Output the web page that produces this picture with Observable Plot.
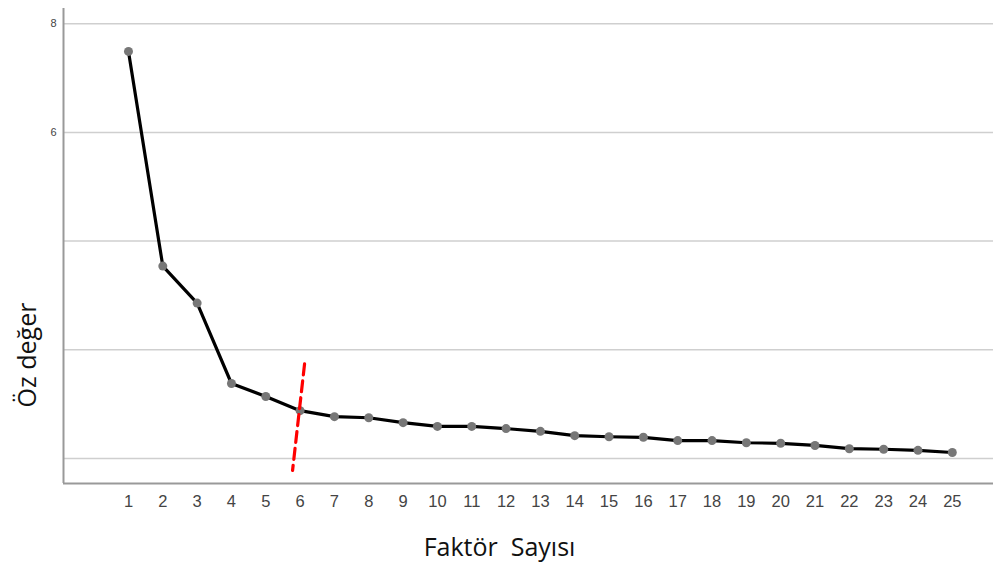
<!DOCTYPE html>
<html>
<head>
<meta charset="utf-8">
<script src="https://cdn.jsdelivr.net/npm/d3@7"></script>
<script src="https://cdn.jsdelivr.net/npm/@observablehq/plot@0.6"></script>
<style>
  html, body { margin: 0; padding: 0; background: #fff; }
  svg text { white-space: pre; }
</style>
</head>
<body>
<div id="chart"></div>
<script>
const factors = [1,2,3,4,5,6,7,8,9,10,11,12,13,14,15,16,17,18,19,20,21,22,23,24,25];
const eigenvalues = [7.49,3.54,2.86,1.38,1.14,0.88,0.77,0.75,0.66,0.59,0.59,0.55,0.50,0.42,0.40,0.39,0.33,0.33,0.29,0.28,0.24,0.18,0.17,0.15,0.11];
const yTicks = [0,2,4,6,8];
const yTickLabels = ["", "", "", "6", "8"];
const cutX = [6.13, 5.78];
const cutY = [1.74, -0.22];
const xTitle = "Faktör  Sayısı";
const yTitle = "Öz değer";

const data = factors.map((f, i) => ({f, v: eigenvalues[i]}));
const cut = cutX.map((x, i) => ({x, y: cutY[i]}));

const chart = Plot.plot({
  width: 993,
  height: 565,
  marginLeft: 63,
  marginRight: 0,
  marginTop: 8,
  marginBottom: 82,
  style: {fontFamily: "'Liberation Sans', Arial, sans-serif", background: "#fff"},
  x: {domain: [-0.893, 26.2], ticks: factors, tickSize: 0, tickPadding: 12},
  y: {domain: [-0.46, 8.28], ticks: yTicks, tickSize: 0, tickPadding: 7,
      tickFormat: d => yTickLabels[yTicks.indexOf(d)] ?? ""},
  marks: [
    Plot.gridY(yTicks, {stroke: "#cfcfcf", strokeOpacity: 1, strokeWidth: 1.5}),
    Plot.axisX({ticks: factors, tickSize: 0, tickPadding: 12, fontSize: 16.5, fill: "#444", label: null}),
    Plot.axisY({ticks: yTicks, tickSize: 0, tickPadding: 7, fontSize: 11, fill: "#444", label: null,
      tickFormat: d => yTickLabels[yTicks.indexOf(d)] ?? ""}),
    Plot.ruleX([-0.893], {stroke: "#999", strokeWidth: 2}),
    Plot.ruleY([-0.46], {stroke: "#999", strokeWidth: 2}),
    Plot.line(data, {x: "f", y: "v", stroke: "#000", strokeWidth: 3.2}),
    Plot.dot(data, {x: "f", y: "v", r: 4.5, fill: "#777", stroke: "none"}),
    Plot.line(cut, {x: "x", y: "y", stroke: "#ff0000", strokeWidth: 3.2, strokeDasharray: "11,6"}),
    Plot.text([xTitle], {frameAnchor: "bottom", textAnchor: "middle", lineAnchor: "middle",
      dx: -29, dy: 64, fontSize: 25, fill: "#111", fontFamily: "'Open Sans', sans-serif"}),
    Plot.text([yTitle], {frameAnchor: "left", textAnchor: "middle", lineAnchor: "middle", rotate: -90,
      dx: -36, dy: 109, fontSize: 25, fill: "#111", fontFamily: "'Open Sans', sans-serif"})
  ]
});
document.getElementById("chart").appendChild(chart);
</script>
</body>
</html>
